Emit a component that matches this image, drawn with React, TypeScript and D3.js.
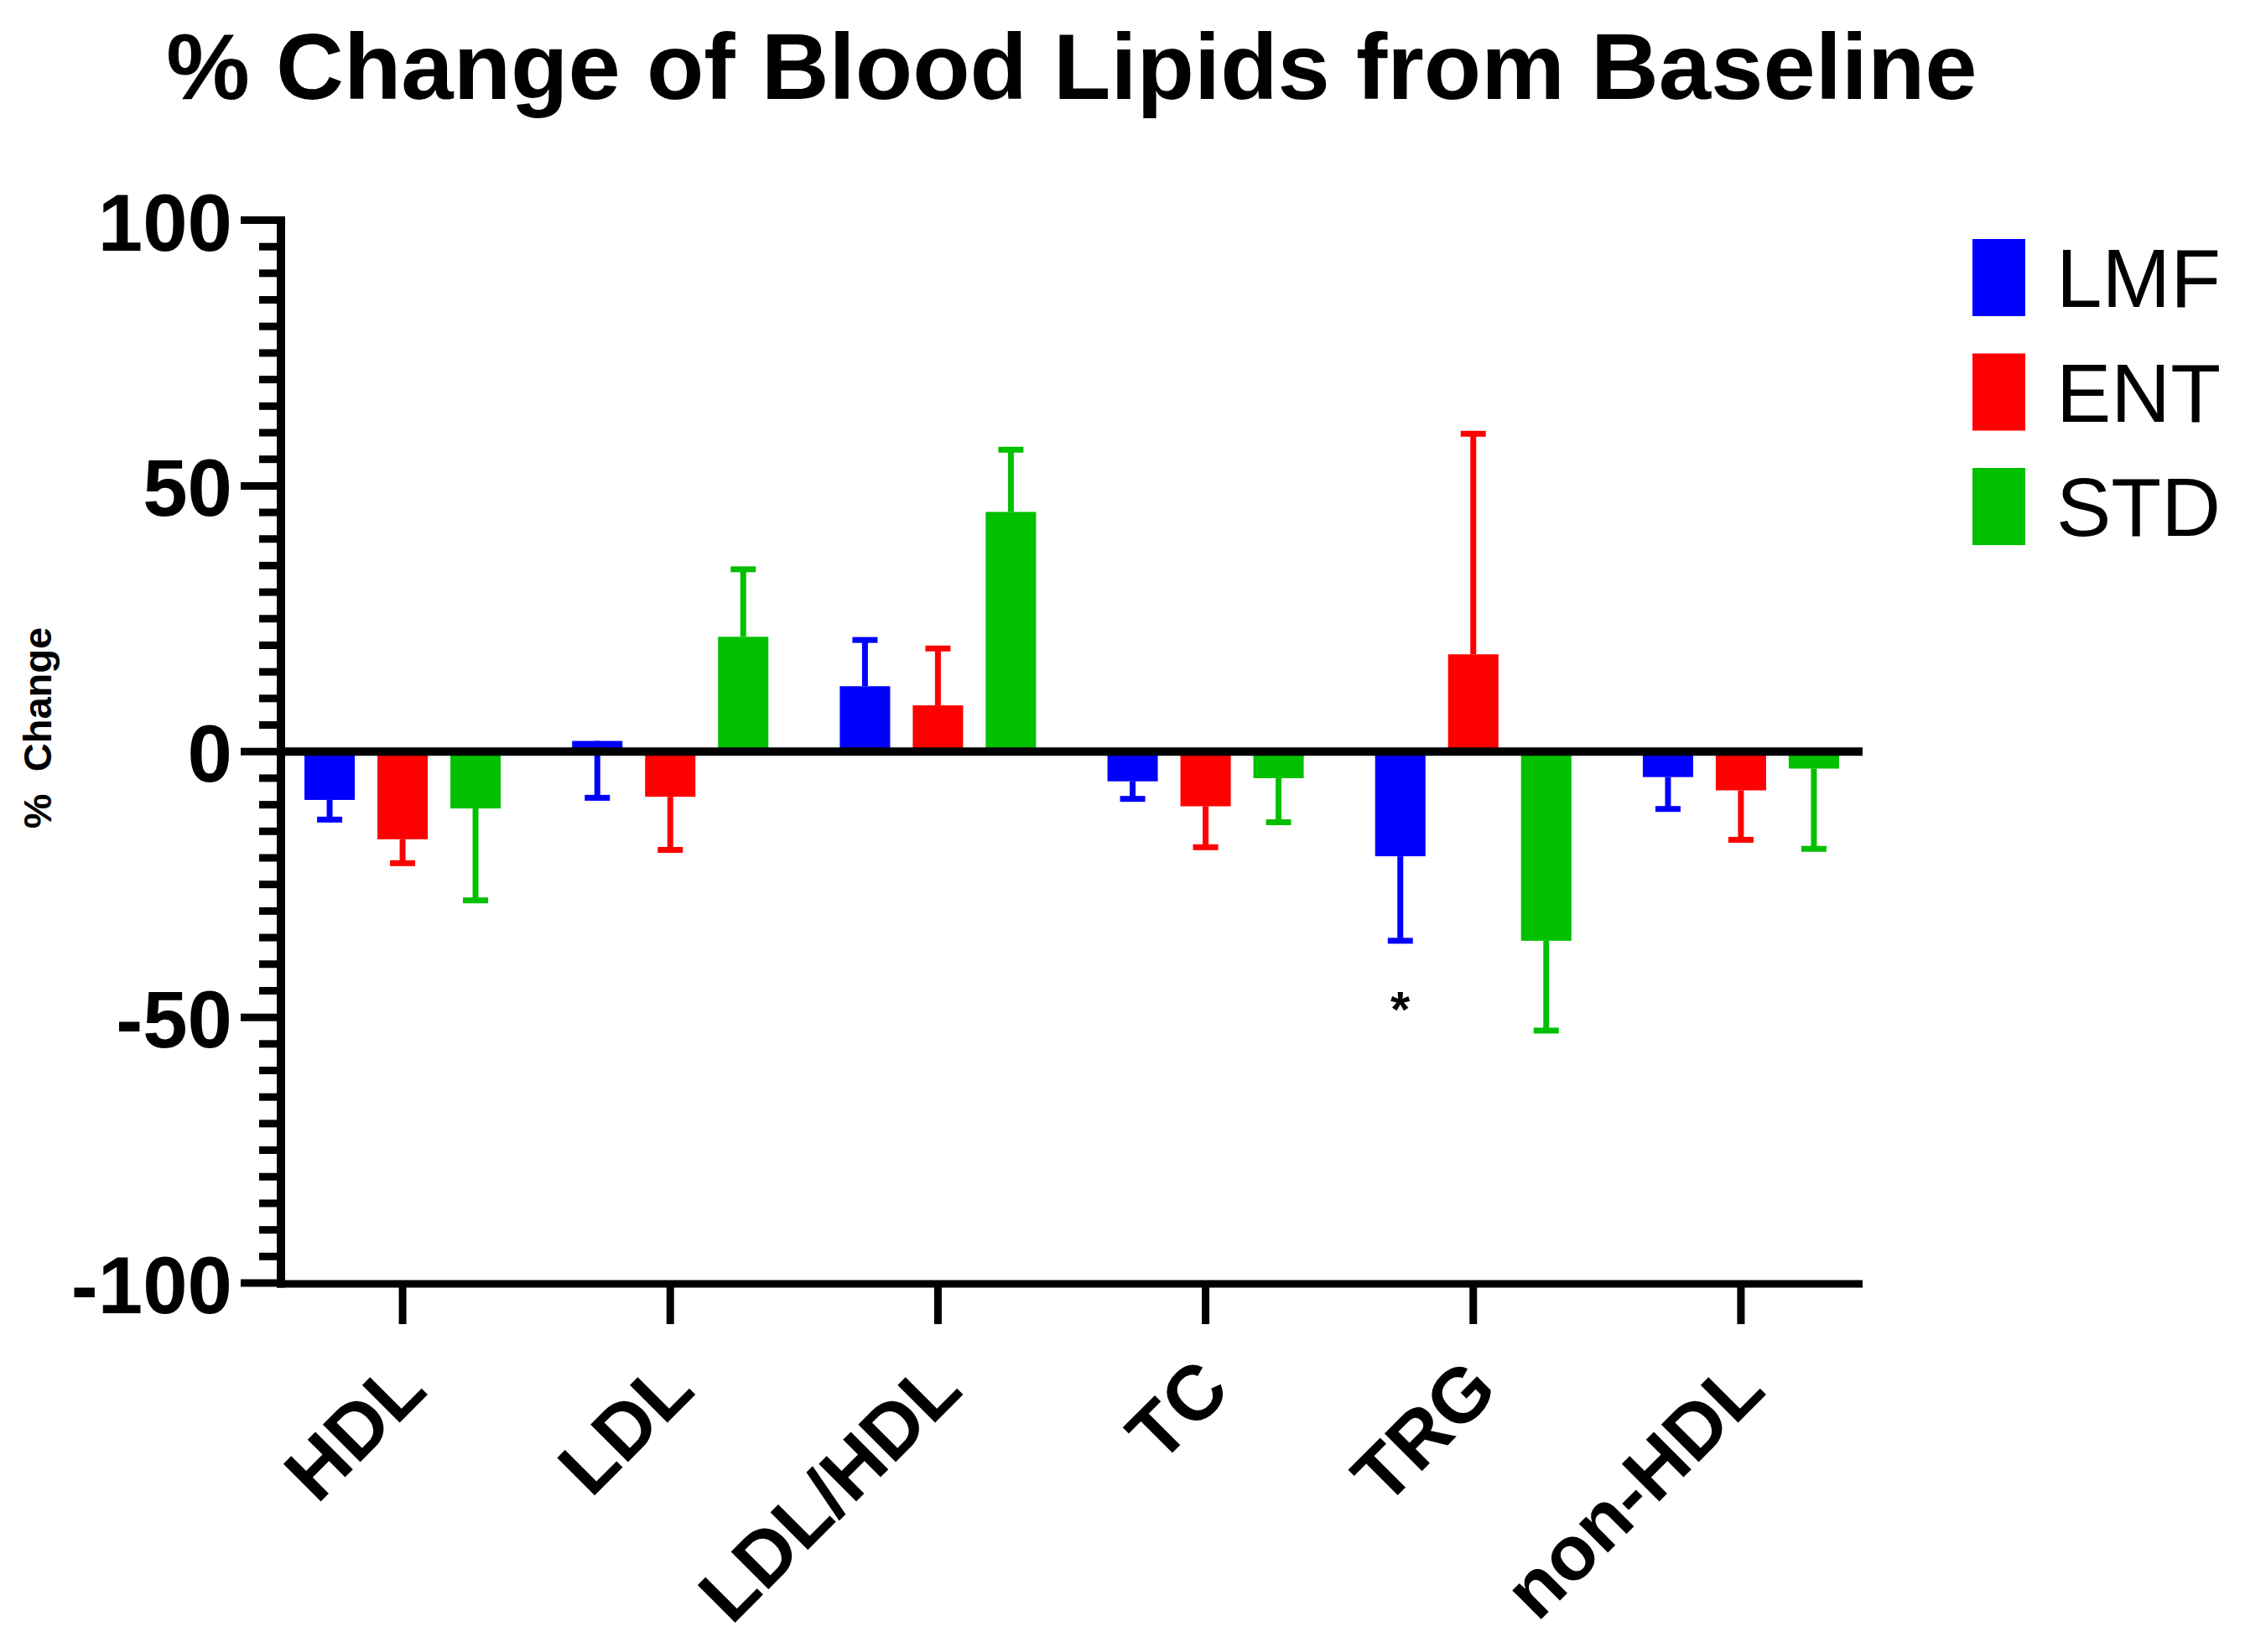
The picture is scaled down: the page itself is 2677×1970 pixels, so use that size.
import React from "react";
import * as d3 from "d3";

const categories = ["HDL", "LDL", "LDL/HDL", "TC", "TRG", "non-HDL"];
const seriesNames = ["LMF", "ENT", "STD"];
const seriesColors = ["#0000FF", "#FF0000", "#00C000"];
const lmfValues = [-9.1, 2.0, 12.3, -5.6, -19.7, -4.8];
const lmfErrTips = [-12.8, -8.7, 21.0, -8.9, -35.6, -10.8];
const entValues = [-16.5, -8.5, 8.7, -10.3, 18.3, -7.3];
const entErrTips = [-21.0, -18.5, 19.4, -18.0, 59.8, -16.6];
const stdValues = [-10.7, 21.6, 45.1, -5.0, -35.6, -3.2];
const stdErrTips = [-28.0, 34.3, 56.8, -13.3, -52.5, -18.3];
const yMajorTicks = [-100, -50, 0, 50, 100];
const starMarks = [{ category: "TRG", series: "LMF", value: -47 }];

const titleText = "% Change of Blood Lipids from Baseline";
const yTitle = "%\u00A0\u00A0Change";

const W = 2677;
const H = 1970;
const FONT = "'Liberation Sans', Arial, Helvetica, sans-serif";

export default function App() {
  const x0 = 335;
  const x1 = 2221;
  const y = d3.scaleLinear().domain([-100, 100]).range([1530, 262.5]);
  const x = d3.scalePoint<string>().domain(categories).range([x0, x1]).padding(0.4545);
  const inner = d3.scaleBand<string>().domain(seriesNames).range([-117, 117]).paddingInner(0.31).paddingOuter(0);
  const barW = inner.bandwidth();

  const values = [lmfValues, entValues, stdValues];
  const tips = [lmfErrTips, entErrTips, stdErrTips];

  const minorTicks = d3.range(-100, 101, 5).filter((v) => !yMajorTicks.includes(v));
  const xAxisY = 1531;

  return (
    <svg
      width={W}
      height={H}
      viewBox={`0 0 ${W} ${H}`}
      style={{ position: "absolute", left: 0, top: 0, background: "#fff" }}
      fontFamily={FONT}
    >
      <rect x={0} y={0} width={W} height={H} fill="#fff" />
      {/* Title */}
      <text x={1278} y={118} textAnchor="middle" fontSize={112} fontWeight="bold" fill="#000">
        {titleText}
      </text>

      {/* Bars */}
      {seriesNames.map((s, si) =>
        categories.map((c, ci) => {
          const v = values[si][ci];
          const cx = (x(c) as number) + (inner(s) as number) + barW / 2;
          const y0 = y(0);
          const yv = y(v);
          return (
            <rect
              key={`bar-${s}-${c}`}
              x={cx - barW / 2}
              y={Math.min(y0, yv)}
              width={barW}
              height={Math.abs(yv - y0)}
              fill={seriesColors[si]}
            />
          );
        })
      )}

      {/* Error bars */}
      {seriesNames.map((s, si) =>
        categories.map((c, ci) => {
          const v = values[si][ci];
          const t = tips[si][ci];
          const cx = (x(c) as number) + (inner(s) as number) + barW / 2;
          return (
            <g key={`err-${s}-${c}`} stroke={seriesColors[si]} strokeWidth={7}>
              <line x1={cx} x2={cx} y1={y(v)} y2={y(t)} />
              <line x1={cx - 15} x2={cx + 15} y1={y(t)} y2={y(t)} />
            </g>
          );
        })
      )}

      {/* Zero line */}
      <line x1={x0} x2={x1} y1={y(0)} y2={y(0)} stroke="#000" strokeWidth={10} />

      {/* Y axis */}
      <line x1={x0} x2={x0} y1={258} y2={xAxisY + 4.5} stroke="#000" strokeWidth={10} />
      {yMajorTicks.map((v) => (
        <g key={`ymaj-${v}`}>
          <line x1={287} x2={x0} y1={y(v)} y2={y(v)} stroke="#000" strokeWidth={9} />
          <text x={277} y={y(v) + 36} textAnchor="end" fontSize={96} fontWeight="bold" fill="#000">
            {v < 0 ? `-${Math.abs(v)}` : `${v}`}
          </text>
        </g>
      ))}
      {minorTicks.map((v) => (
        <line key={`ymin-${v}`} x1={309} x2={x0} y1={y(v)} y2={y(v)} stroke="#000" strokeWidth={9} />
      ))}

      {/* Y title */}
      <text
        transform={`translate(61, 868) rotate(-90)`}
        textAnchor="middle"
        fontSize={47}
        fontWeight="bold"
        fill="#000"
      >
        {yTitle}
      </text>

      {/* X axis */}
      <line x1={x0 - 5} x2={x1} y1={xAxisY} y2={xAxisY} stroke="#000" strokeWidth={9} />
      {categories.map((c) => {
        const cx = x(c) as number;
        return (
          <g key={`xt-${c}`}>
            <line x1={cx} x2={cx} y1={xAxisY} y2={1579} stroke="#000" strokeWidth={9} />
            <text
              transform={`translate(${cx + 32}, 1661) rotate(-45)`}
              textAnchor="end"
              fontSize={92}
              fontWeight="bold"
              fill="#000"
            >
              {c}
            </text>
          </g>
        );
      })}

      {/* Significance marks */}
      {starMarks.map((m) => {
        const cx = (x(m.category) as number) + (inner(m.series) as number) + barW / 2;
        return (
          <text
            key={`star-${m.category}`}
            x={cx}
            y={y(m.value) + 30}
            textAnchor="middle"
            fontSize={60}
            fontWeight="bold"
            fill="#000"
          >
            *
          </text>
        );
      })}

      {/* Legend */}
      {seriesNames.map((s, i) => {
        const top = 285 + i * 136.5;
        return (
          <g key={`leg-${s}`}>
            <rect x={2352} y={top} width={63} height={92} fill={seriesColors[i]} />
            <text x={2452} y={top + 81} fontSize={98} fill="#000">
              {s}
            </text>
          </g>
        );
      })}
    </svg>
  );
}
